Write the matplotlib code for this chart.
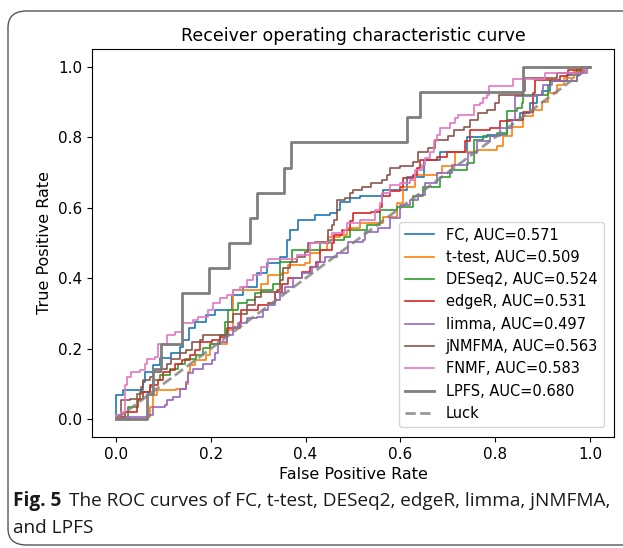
import matplotlib
matplotlib.use("Agg")
import matplotlib.pyplot as plt
from matplotlib.patches import FancyBboxPatch

# ROC points (fpr, tpr), drawn as step curves
fc_fpr = [0, 0, 0.015, 0.058, 0.061, 0.079, 0.093, 0.117, 0.135, 0.142, 0.155, 0.167, 0.191, 0.209,
          0.244, 0.269, 0.297, 0.318, 0.346, 0.36, 0.367, 0.385, 0.42, 0.451, 0.466, 0.473, 0.494,
          0.515, 0.564, 0.613, 0.649, 0.684, 0.74, 0.782, 0.824, 0.852, 0.873, 0.888, 0.898, 0.916,
          0.951, 0.979, 1.0]
fc_tpr = [0, 0.068, 0.082, 0.106, 0.134, 0.153, 0.173, 0.187, 0.205, 0.224, 0.258, 0.276, 0.295, 0.31,
          0.352, 0.376, 0.414, 0.442, 0.461, 0.508, 0.537, 0.565, 0.58, 0.584, 0.594, 0.617, 0.627,
          0.632, 0.651, 0.688, 0.736, 0.759, 0.80, 0.807, 0.849, 0.868, 0.897, 0.92, 0.93, 0.958,
          0.977, 0.996, 1.0]

tt_fpr = [0, 0.068, 0.072, 0.079, 0.086, 0.128, 0.149, 0.153, 0.156, 0.167, 0.191, 0.198, 0.234,
          0.247, 0.307, 0.321, 0.35, 0.364, 0.399, 0.409, 0.43, 0.445, 0.448, 0.473, 0.487, 0.515,
          0.564, 0.592, 0.606, 0.631, 0.677, 0.687, 0.715, 0.761, 0.803, 0.817, 0.835, 0.859, 0.88,
          0.898, 0.912, 0.93, 0.944, 0.965, 0.986, 1.0]
tt_tpr = [0, 0.007, 0.035, 0.068, 0.082, 0.087, 0.101, 0.134, 0.153, 0.168, 0.182, 0.215, 0.253,
          0.366, 0.385, 0.409, 0.414, 0.438, 0.442, 0.471, 0.48, 0.499, 0.518, 0.523, 0.542, 0.556,
          0.575, 0.613, 0.66, 0.693, 0.698, 0.717, 0.759, 0.764, 0.774, 0.802, 0.83, 0.859, 0.878,
          0.901, 0.925, 0.949, 0.968, 0.987, 1.0, 1.0]

de_fpr = [0, 0.026, 0.044, 0.051, 0.072, 0.079, 0.093, 0.114, 0.131, 0.146, 0.17, 0.184, 0.198,
          0.219, 0.23, 0.237, 0.258, 0.276, 0.293, 0.307, 0.332, 0.346, 0.371, 0.43, 0.451, 0.48,
          0.494, 0.529, 0.557, 0.592, 0.627, 0.648, 0.684, 0.705, 0.74, 0.754, 0.775, 0.803, 0.824,
          0.845, 0.856, 0.859, 0.912, 0.916, 0.972, 1.0]
de_tpr = [0, 0.035, 0.054, 0.078, 0.092, 0.111, 0.125, 0.144, 0.158, 0.172, 0.182, 0.201, 0.215,
          0.239, 0.276, 0.31, 0.329, 0.338, 0.357, 0.366, 0.385, 0.447, 0.48, 0.499, 0.508, 0.518,
          0.537, 0.551, 0.594, 0.603, 0.632, 0.66, 0.688, 0.707, 0.726, 0.793, 0.802, 0.812, 0.873,
          0.883, 0.897, 0.92, 0.949, 0.958, 0.996, 1.0]

er_fpr = [0, 0.008, 0.019, 0.044, 0.047, 0.058, 0.072, 0.089, 0.1, 0.114, 0.124, 0.139, 0.156,
          0.167, 0.177, 0.202, 0.219, 0.234, 0.262, 0.265, 0.3, 0.321, 0.335, 0.35, 0.364, 0.392,
          0.409, 0.423, 0.43, 0.455, 0.459, 0.476, 0.494, 0.501, 0.539, 0.557, 0.561, 0.578, 0.599,
          0.606, 0.627, 0.634, 0.641, 0.677, 0.698, 0.736, 0.747, 0.789, 0.81, 0.831, 0.859, 0.88,
          0.884, 0.937, 0.954, 0.982, 1.0]
er_tpr = [0, 0.007, 0.021, 0.035, 0.059, 0.078, 0.097, 0.111, 0.134, 0.139, 0.158, 0.168, 0.182,
          0.196, 0.219, 0.224, 0.234, 0.258, 0.276, 0.31, 0.324, 0.329, 0.362, 0.385, 0.4, 0.418,
          0.433, 0.447, 0.48, 0.499, 0.523, 0.537, 0.561, 0.584, 0.589, 0.603, 0.632, 0.646, 0.66,
          0.684, 0.693, 0.712, 0.736, 0.745, 0.759, 0.788, 0.821, 0.826, 0.845, 0.849, 0.87, 0.925,
          0.963, 0.973, 0.991, 1.0, 1.0]

li_fpr = [0, 0.019, 0.068, 0.079, 0.103, 0.107, 0.121, 0.135, 0.149, 0.153, 0.163, 0.184, 0.202,
          0.209, 0.216, 0.234, 0.247, 0.258, 0.276, 0.297, 0.311, 0.321, 0.335, 0.346, 0.357, 0.374,
          0.392, 0.413, 0.427, 0.441, 0.466, 0.49, 0.522, 0.525, 0.553, 0.578, 0.599, 0.62, 0.638,
          0.652, 0.677, 0.708, 0.743, 0.761, 0.789, 0.81, 0.835, 0.842, 0.888, 0.901, 0.919, 0.972,
          0.993, 1.0]
li_tpr = [0, 0.007, 0.011, 0.035, 0.04, 0.054, 0.063, 0.087, 0.106, 0.13, 0.144, 0.158, 0.168,
          0.187, 0.219, 0.239, 0.262, 0.272, 0.286, 0.291, 0.31, 0.324, 0.338, 0.357, 0.376, 0.4,
          0.414, 0.433, 0.447, 0.461, 0.471, 0.504, 0.508, 0.532, 0.542, 0.57, 0.608, 0.622, 0.636,
          0.67, 0.698, 0.722, 0.754, 0.788, 0.802, 0.826, 0.849, 0.916, 0.92, 0.949, 0.958, 0.982,
          1.0, 1.0]

jn_fpr = [0, 0.005, 0.012, 0.03, 0.044, 0.054, 0.058, 0.072, 0.079, 0.096, 0.107, 0.117, 0.135,
          0.149, 0.16, 0.177, 0.184, 0.234, 0.237, 0.247, 0.276, 0.293, 0.307, 0.339, 0.346, 0.353,
          0.367, 0.381, 0.399, 0.406, 0.42, 0.448, 0.455, 0.459, 0.466, 0.483, 0.494, 0.501, 0.518,
          0.539, 0.561, 0.571, 0.578, 0.599, 0.627, 0.638, 0.659, 0.673, 0.701, 0.712, 0.733, 0.747,
          0.764, 0.782, 0.8, 0.807, 0.859, 0.863, 0.93, 0.979, 1.0]
jn_tpr = [0, 0.011, 0.054, 0.059, 0.073, 0.092, 0.111, 0.12, 0.134, 0.144, 0.158, 0.172, 0.187,
          0.196, 0.219, 0.224, 0.239, 0.243, 0.276, 0.3, 0.324, 0.347, 0.362, 0.366, 0.395, 0.428,
          0.447, 0.461, 0.475, 0.499, 0.504, 0.537, 0.551, 0.565, 0.622, 0.627, 0.641, 0.651, 0.66,
          0.669, 0.679, 0.693, 0.712, 0.717, 0.731, 0.759, 0.769, 0.793, 0.802, 0.821, 0.83, 0.849,
          0.868, 0.878, 0.897, 0.92, 0.93, 0.968, 0.982, 1.0, 1.0]

fn_fpr = [0, 0, 0.012, 0.019, 0.023, 0.033, 0.051, 0.061, 0.065, 0.082, 0.089, 0.107, 0.124, 0.139,
          0.163, 0.174, 0.195, 0.205, 0.219, 0.234, 0.247, 0.262, 0.276, 0.29, 0.307, 0.321, 0.381,
          0.409, 0.445, 0.455, 0.48, 0.487, 0.515, 0.546, 0.557, 0.561, 0.578, 0.599, 0.62, 0.631,
          0.645, 0.652, 0.662, 0.67, 0.677, 0.684, 0.705, 0.715, 0.722, 0.754, 0.768, 0.775, 0.782,
          0.786, 0.838, 0.905, 0.99, 1.0]
fn_tpr = [0, 0.011, 0.021, 0.097, 0.12, 0.134, 0.139, 0.158, 0.172, 0.177, 0.215, 0.239, 0.248,
          0.272, 0.281, 0.291, 0.31, 0.329, 0.343, 0.352, 0.366, 0.376, 0.395, 0.409, 0.433, 0.454,
          0.466, 0.499, 0.504, 0.527, 0.537, 0.556, 0.565, 0.594, 0.613, 0.641, 0.665, 0.669, 0.679,
          0.707, 0.722, 0.741, 0.759, 0.788, 0.807, 0.826, 0.84, 0.854, 0.863, 0.892, 0.897, 0.911,
          0.92, 0.944, 0.966, 0.982, 1.0, 1.0]

lp_fpr = [0, 0.065, 0.079, 0.095, 0.139, 0.196, 0.238, 0.283, 0.297, 0.354, 0.369, 0.613, 0.641,
          0.858, 1.0]
lp_tpr = [0, 0.071, 0.143, 0.214, 0.357, 0.429, 0.5, 0.571, 0.643, 0.714, 0.786, 0.857, 0.929,
          1.0, 1.0]

methods = ["FC", "t-test", "DESeq2", "edgeR", "limma", "jNMFMA", "FNMF", "LPFS"]
aucs = [0.571, 0.509, 0.524, 0.531, 0.497, 0.563, 0.583, 0.680]
curves = [(fc_fpr, fc_tpr), (tt_fpr, tt_tpr), (de_fpr, de_tpr), (er_fpr, er_tpr),
          (li_fpr, li_tpr), (jn_fpr, jn_tpr), (fn_fpr, fn_tpr), (lp_fpr, lp_tpr)]

fig = plt.figure(figsize=(6.23, 5.48), dpi=100)
ax = fig.add_axes([0.1477, 0.2026, 0.8378, 0.708])

for i, (name, auc, (x, y)) in enumerate(zip(methods, aucs, curves)):
    lw = 2.0 if name == "LPFS" else 1.2
    ax.plot(x, y, drawstyle="steps-post", color=f"C{i}", lw=lw,
            label=f"{name}, AUC={auc:.3f}")

ax.plot([0, 1], [0, 1], linestyle="--", lw=2, color="gray", alpha=0.8, label="Luck")

ax.set_xlim(-0.05, 1.05)
ax.set_ylim(-0.05, 1.05)
ax.set_xticks([0.0, 0.2, 0.4, 0.6, 0.8, 1.0])
ax.set_yticks([0.0, 0.2, 0.4, 0.6, 0.8, 1.0])
ax.tick_params(labelsize=11)
ax.set_xlabel("False Positive Rate", fontsize=11.5)
ax.set_ylabel("True Positive Rate", fontsize=11.5)
ax.set_title("Receiver operating characteristic curve", fontsize=12.5)
ax.legend(loc="lower right", fontsize=10.5, borderaxespad=0.7)

# rounded frame around figure + caption
frame = FancyBboxPatch((8 / 623, 3 / 548), 1.2, 534 / 548,
                       boxstyle="round,pad=0,rounding_size=0.03",
                       transform=fig.transFigure, fill=False,
                       edgecolor="#555555", lw=1.0, clip_on=False)
fig.patches.append(frame)

cap_font = "Open Sans"
cap_size = 13.7
t1 = fig.text(13 / 623, 1 - 501 / 548, "Fig. 5", fontsize=cap_size, weight="bold",
              family=cap_font, va="center", color="#1a1a1a")
fig.canvas.draw()
bb = t1.get_window_extent()
x_next = (bb.x1 + 8) / fig.bbox.width
fig.text(x_next, 1 - 501 / 548, "The ROC curves of FC, t-test, DESeq2, edgeR, limma, jNMFMA,",
         fontsize=cap_size, family=cap_font, va="center", color="#1a1a1a")
fig.text(13 / 623, 1 - 528 / 548, "and LPFS", fontsize=cap_size, family=cap_font,
         va="center", color="#1a1a1a")

fig.savefig("out.png", dpi=100)
